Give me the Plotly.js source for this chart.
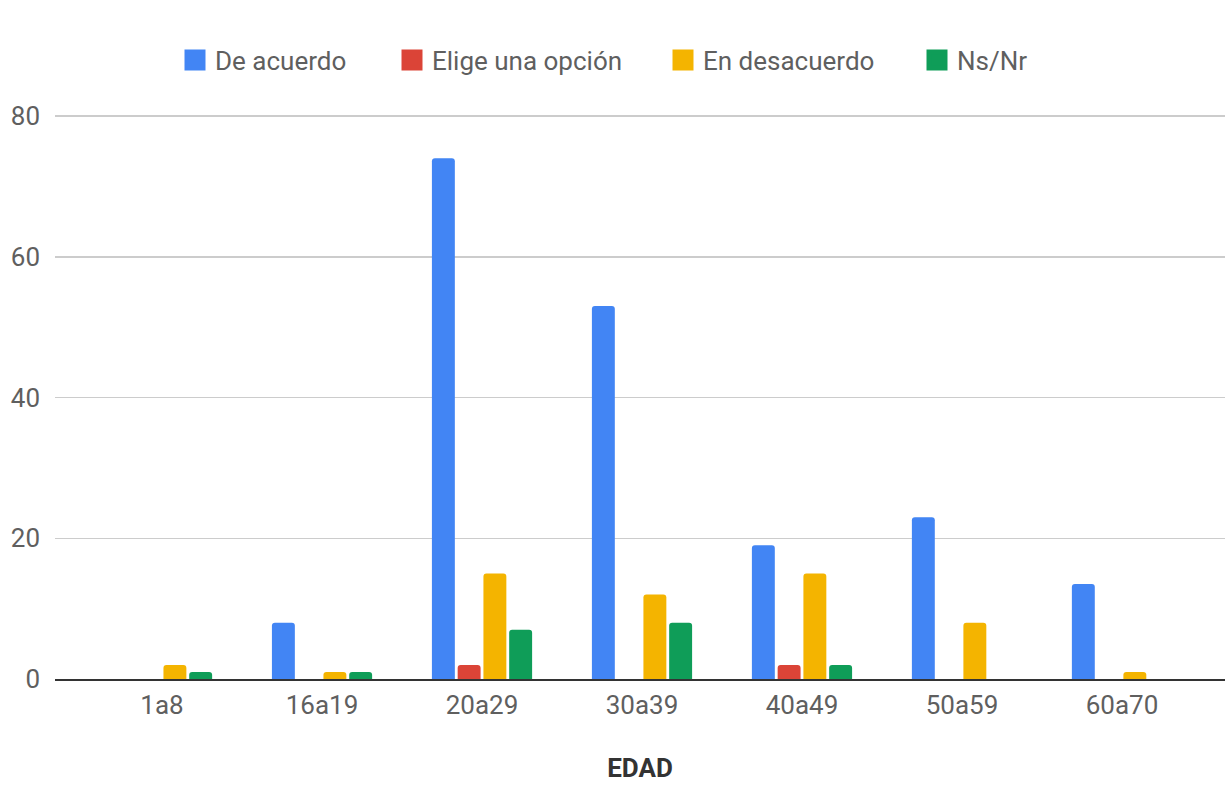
<!DOCTYPE html>
<html>
<head>
<meta charset="utf-8">
<script src="https://cdn.plot.ly/plotly-3.0.1.min.js"></script>
<style>html,body{margin:0;padding:0;background:#fff;}#chart{width:1225px;height:786px;}</style>
</head>
<body>
<div id="chart"></div>
<script>
const categories = ["1a8", "16a19", "20a29", "30a39", "40a49", "50a59", "60a70"];
const deAcuerdo = [0, 8, 74, 53, 19, 23, 13.5];
const eligeOpcion = [0, 0, 2, 0, 2, 0, 0];
const enDesacuerdo = [2, 1, 15, 12, 15, 8, 1];
const nsNr = [1, 1, 7, 8, 2, 0, 0];
const seriesNames = ["De acuerdo", "Elige una opción", "En desacuerdo", "Ns/Nr"];
const seriesColors = ["#4285F4", "#DB4437", "#F4B400", "#0F9D58"];
const yTicks = [0, 20, 40, 60, 80];

const allValues = [deAcuerdo, eligeOpcion, enDesacuerdo, nsNr];
const legendIds = ["legend", "legend2", "legend3", "legend4"];
const legendX = [175, 392, 663, 917];

const traces = allValues.map((vals, i) => ({
  type: "bar",
  name: seriesNames[i],
  x: categories,
  y: vals,
  marker: { color: seriesColors[i] },
  showlegend: false
}));
// legend entries (square swatches)
seriesNames.forEach((n, i) => {
  traces.push({
    type: "scatter",
    mode: "markers",
    name: n,
    x: [null],
    y: [null],
    legend: legendIds[i],
    marker: { symbol: "square", size: 16, color: seriesColors[i], line: { color: seriesColors[i], width: 5 } },
    showlegend: true
  });
});

const plotL = 55, plotW = 1170, plotT = 109, plotB = 107;
const plotH = 786 - plotT - plotB;
const legendFont = { family: "Roboto, Arial, sans-serif", size: 26, color: "#5f5f5f" };

const layout = {
  width: 1225,
  height: 786,
  margin: { l: plotL, r: 0, t: plotT, b: plotB },
  paper_bgcolor: "#ffffff",
  plot_bgcolor: "#ffffff",
  font: { family: "Roboto, Arial, sans-serif", size: 26, color: "#5f5f5f" },
  barmode: "group",
  bargap: 0.356,
  bargroupgap: 0.11,
  barcornerradius: 3,
  showlegend: true,
  xaxis: {
    type: "category",
    range: [-0.669, 6.644],
    showgrid: false,
    showline: true,
    linecolor: "#333333",
    linewidth: 2,
    ticks: "",
    tickfont: { size: 26, color: "#5f5f5f" },
    ticklabelstandoff: 2,
    title: { text: "<b>EDAD</b>", font: { size: 26, color: "#333333" }, standoff: 40 },
    automargin: false,
    zeroline: false
  },
  yaxis: {
    range: [0, 81],
    tickvals: yTicks,
    ticktext: yTicks.map(String),
    showgrid: true,
    gridcolor: "#cccccc",
    gridwidth: 1.5,
    zeroline: false,
    ticks: "",
    ticklabelstandoff: 14,
    tickfont: { size: 26, color: "#5f5f5f" },
    automargin: false
  }
};
legendIds.forEach((id, i) => {
  layout[id] = {
    orientation: "h",
    x: (legendX[i] - plotL) / plotW,
    xanchor: "left",
    y: 1 + (plotT - 60) / plotH,
    yanchor: "middle",
    font: legendFont,
    itemsizing: "trace",
    bgcolor: "rgba(0,0,0,0)"
  };
});

Plotly.newPlot("chart", traces, layout, { displayModeBar: false, staticPlot: true });
</script>
</body>
</html>
